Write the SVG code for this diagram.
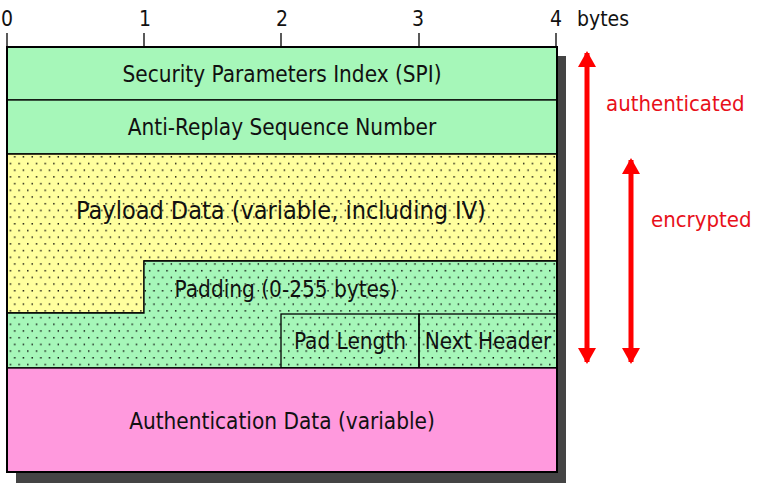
<svg xmlns="http://www.w3.org/2000/svg" width="764" height="491" viewBox="0 0 764 491">
<style>
text{font-family:"DejaVu Sans Condensed","DejaVu Sans","Liberation Sans",sans-serif;font-stretch:condensed;fill:#111}
.lbl{font-size:22.4px;text-anchor:middle}
.ax{font-size:21px;text-anchor:middle}
.red{fill:#e8101a;font-size:22px}
.ln{stroke:#000;stroke-width:1.3}
.arr{stroke:#ff0000;stroke-width:5}
.g{fill:#a6f7b9}
</style>
<defs>
<pattern id="dots" width="8.7" height="13.4" patternUnits="userSpaceOnUse">
<rect x="1" y="2" width="1.4" height="1.4" fill="#000"/>
<rect x="5.4" y="8.7" width="1.4" height="1.4" fill="#000"/>
</pattern>
<marker id="ah" viewBox="0 0 16 18" refX="14" refY="9" markerWidth="16" markerHeight="18" markerUnits="userSpaceOnUse" orient="auto-start-reverse">
<path d="M0,0 L16,9 L0,18 z" fill="#ff0000"/>
</marker>
</defs>
<rect width="764" height="491" fill="#fff"/>
<rect x="16" y="56" width="550" height="427" fill="#444"/>
<g id="axis">
<line class="ln" x1="7" y1="33" x2="7" y2="47"/>
<line class="ln" x1="144" y1="33" x2="144" y2="47"/>
<line class="ln" x1="281" y1="33" x2="281" y2="47"/>
<line class="ln" x1="419" y1="33" x2="419" y2="47"/>
<line class="ln" x1="556" y1="33" x2="556" y2="47"/>
<text class="ax" x="7" y="26">0</text>
<text class="ax" x="145" y="26">1</text>
<text class="ax" x="282" y="26">2</text>
<text class="ax" x="418" y="26">3</text>
<text class="ax" x="556" y="26">4</text>
<text x="577" y="26" style="font-size:21px">bytes</text>
</g>
<g id="spi">
<rect x="7" y="47" width="550" height="53" class="ln g"/>
<text class="lbl" x="282" y="82">Security Parameters Index (SPI)</text>
</g>
<g id="seq">
<rect x="7" y="100" width="550" height="54" class="ln g"/>
<text class="lbl" x="282" y="135">Anti-Replay Sequence Number</text>
</g>
<g id="payload">
<path d="M7,154 H557 V261 H144 V313 H7 Z" fill="#ffff9e"/>
<path d="M7,154 H557 V261 H144 V313 H7 Z" fill="url(#dots)" class="ln"/>
<text x="281" y="219" style="font-size:25px;text-anchor:middle">Payload Data (variable, including IV)</text>
</g>
<g id="padding">
<path d="M144,261 H557 V368 H7 V313 H144 Z" class="g"/>
<path d="M144,261 H557 V368 H7 V313 H144 Z" fill="url(#dots)" class="ln"/>
<text class="lbl" x="286" y="297">Padding (0-255 bytes)</text>
</g>
<g id="padlen">
<rect x="281" y="314" width="138" height="54" fill="none" class="ln"/>
<text class="lbl" x="350" y="349">Pad Length</text>
</g>
<g id="nexthdr">
<rect x="419" y="314" width="138" height="54" fill="none" class="ln"/>
<text class="lbl" x="488" y="349">Next Header</text>
</g>
<g id="auth">
<rect x="7" y="368" width="550" height="104" fill="#ff99dd" class="ln"/>
<text class="lbl" x="282" y="429">Authentication Data (variable)</text>
</g>
<rect x="7" y="47" width="550" height="425" fill="none" stroke="#000" stroke-width="2"/>
<g id="connectors">
<line class="arr" x1="587" y1="53" x2="587" y2="362" marker-start="url(#ah)" marker-end="url(#ah)"/>
<line class="arr" x1="631" y1="160" x2="631" y2="362" marker-start="url(#ah)" marker-end="url(#ah)"/>
</g>
<text class="red" x="606" y="111">authenticated</text>
<text class="red" x="651" y="227">encrypted</text>
</svg>
